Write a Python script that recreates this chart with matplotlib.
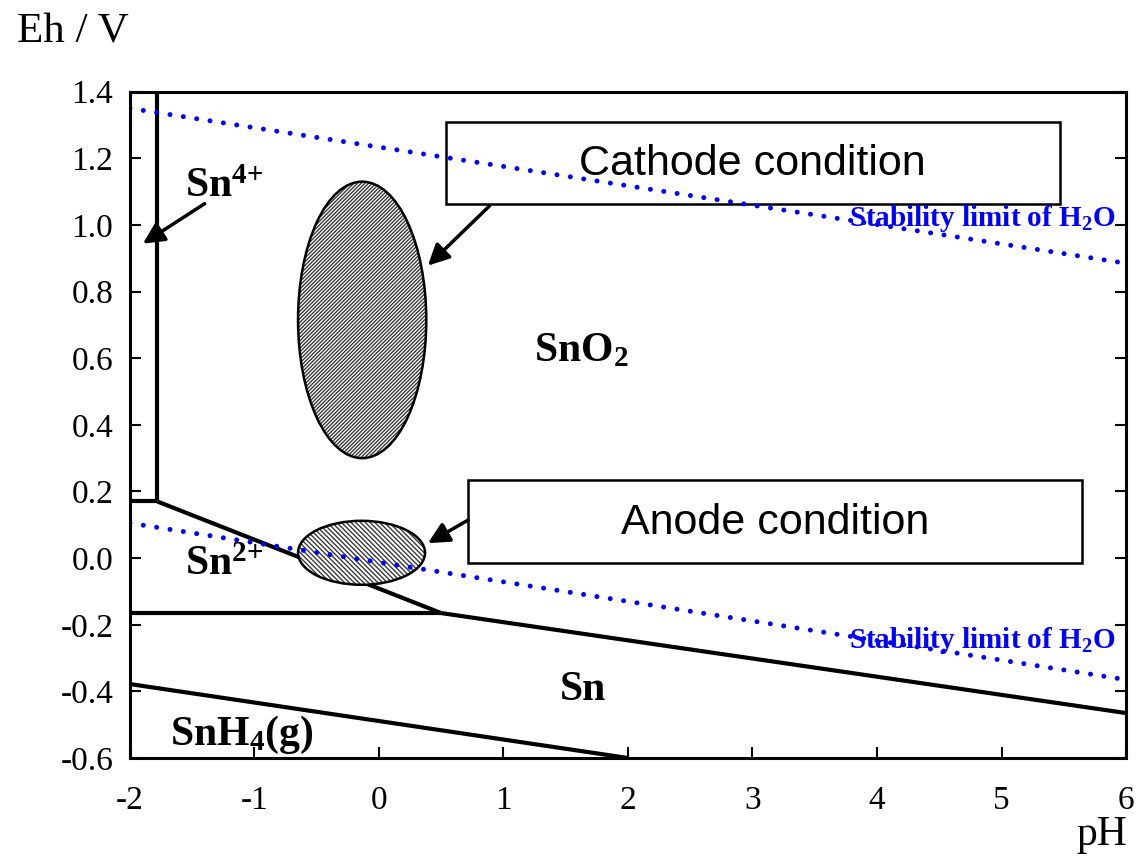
import matplotlib
matplotlib.use("Agg")
import matplotlib.pyplot as plt
from matplotlib.patches import Ellipse, Rectangle, FancyArrowPatch
from matplotlib.ticker import FixedLocator, FixedFormatter

plt.rcParams['font.family'] = ['Liberation Serif', 'DejaVu Serif']
plt.rcParams['mathtext.fontset'] = 'custom'
plt.rcParams['mathtext.rm'] = 'Liberation Serif'
plt.rcParams['mathtext.bf'] = 'Liberation Serif:bold'
plt.rcParams['mathtext.default'] = 'regular'
plt.rcParams['hatch.linewidth'] = 1.0

# ---- data ----
x_ticks = [-2, -1, 0, 1, 2, 3, 4, 5, 6]
x_tick_labels = ["-2", "-1", "0", "1", "2", "3", "4", "5", "6"]
y_ticks = [1.4, 1.2, 1.0, 0.8, 0.6, 0.4, 0.2, 0.0, -0.2, -0.4, -0.6]
y_tick_labels = ["1.4", "1.2", "1.0", "0.8", "0.6", "0.4", "0.2", "0.0", "-0.2", "-0.4", "-0.6"]

# phase boundaries (pH, Eh)
sn4_sno2_ph = [-1.78, -1.78]
sn4_sno2_eh = [1.4, 0.17]
sn4_sn2_ph = [-2.0, -1.78]
sn4_sn2_eh = [0.17, 0.17]
sn2_sno2_ph = [-1.78, 0.5]
sn2_sno2_eh = [0.17, -0.165]
sn2_sn_ph = [-2.0, 0.5]
sn2_sn_eh = [-0.165, -0.165]
sn_sno2_ph = [0.5, 6.0]
sn_sno2_eh = [-0.165, -0.465]
snh4_sn_ph = [-2.0, 2.0]
snh4_sn_eh = [-0.378, -0.6]

# water stability limits
water_upper_ph = [-2.0, 6.0]
water_upper_eh = [1.35, 0.885]
water_lower_ph = [-2.0, 6.0]
water_lower_eh = [0.105, -0.365]

# conditions (center pH, center Eh, width pH, height Eh)
cathode = (-0.135, 0.715, 1.03, 0.83)
anode = (-0.14, 0.016, 1.02, 0.192)

fig = plt.figure(figsize=(11.39, 8.57), dpi=100)
ax = fig.add_axes([0.1141, 0.1155, 0.8745, 0.7775])
ax.set_xlim(-2, 6)
ax.set_ylim(-0.6, 1.4)

lw_phase = 3.0
for px, py in [(sn4_sno2_ph, sn4_sno2_eh), (sn4_sn2_ph, sn4_sn2_eh),
               (sn2_sno2_ph, sn2_sno2_eh), (sn2_sn_ph, sn2_sn_eh),
               (sn_sno2_ph, sn_sno2_eh), (snh4_sn_ph, snh4_sn_eh)]:
    ax.plot(px, py, color='black', lw=lw_phase, solid_capstyle='butt', zorder=3, clip_on=False)

# boxes
cbox = Rectangle((0.538, 1.064), 5.47 - 0.538, 1.31 - 1.064, facecolor='white',
                 edgecolor='black', lw=1.8, zorder=2)
abox = Rectangle((0.715, -0.015), 5.647 - 0.715, 0.234 + 0.015, facecolor='white',
                 edgecolor='black', lw=1.8, zorder=2)
ax.add_patch(cbox)
ax.add_patch(abox)
ax.text(3.0, 1.184, "Cathode condition", family='Liberation Sans', fontsize=31,
        ha='center', va='center', zorder=6)
ax.text(3.18, 0.105, "Anode condition", family='Liberation Sans', fontsize=31,
        ha='center', va='center', zorder=6)

# water lines
for px, py in [(water_upper_ph, water_upper_eh), (water_lower_ph, water_lower_eh)]:
    ax.plot(px, py, color='#0000ff', lw=3.6, linestyle=(0, (0.001, 2.7)),
            dash_capstyle='round', zorder=5)

# ellipses: hatched fill (grey hatch) + black outline
def hatched_ellipse(spec, hatch, hcolor):
    fill = Ellipse((spec[0], spec[1]), spec[2], spec[3], facecolor='white',
                   edgecolor=hcolor, lw=0, hatch=hatch, zorder=4)
    ax.add_patch(fill)
    edge = Ellipse((spec[0], spec[1]), spec[2], spec[3], facecolor='none',
                   edgecolor='black', lw=1.8, zorder=4.5)
    ax.add_patch(edge)

hatched_ellipse(cathode, '/' * 9, '#3a3a3a')
hatched_ellipse(anode, '\\' * 7, '#3a3a3a')

# arrows
def arrow(p0, p1):
    a = FancyArrowPatch(p0, p1, arrowstyle='-|>', mutation_scale=32, color='black',
                        lw=2.5, shrinkA=0, shrinkB=0, zorder=6)
    ax.add_patch(a)

arrow((0.89, 1.058), (0.393, 0.878))
arrow((0.715, 0.114), (0.393, 0.045))
arrow((-1.40, 1.064), (-1.896, 0.944))

# labels
lab_fs = 30
ax.text(-1.56, 1.115, r"Sn$^{4{+}}$", fontsize=lab_fs, fontweight='bold', ha='left', va='center', zorder=7)
ax.text(1.245, 0.62, r"SnO$_2$", fontsize=lab_fs, fontweight='bold', ha='left', va='center', zorder=7)
ax.text(-1.56, -0.02, r"Sn$^{2{+}}$", fontsize=lab_fs, fontweight='bold', ha='left', va='center', zorder=7)
ax.text(1.45, -0.396, "Sn", fontsize=lab_fs, fontweight='bold', ha='left', va='center', zorder=7)
ax.text(-1.68, -0.53, r"SnH$_4$(g)", fontsize=lab_fs, fontweight='bold', ha='left', va='center', zorder=7)

ax.text(5.92, 1.02, r"Stability limit of H$_2$O", fontsize=21, fontweight='bold',
        color='#0000ff', ha='right', va='center', zorder=7)
ax.text(5.92, -0.248, r"Stability limit of H$_2$O", fontsize=21, fontweight='bold',
        color='#0000ff', ha='right', va='center', zorder=7)

# axes styling
for s in ax.spines.values():
    s.set_linewidth(2.2)
    s.set_zorder(8)
ax.xaxis.set_major_locator(FixedLocator(x_ticks))
ax.xaxis.set_major_formatter(FixedFormatter(x_tick_labels))
ax.yaxis.set_major_locator(FixedLocator(y_ticks))
ax.yaxis.set_major_formatter(FixedFormatter(y_tick_labels))
ax.tick_params(axis='both', direction='in', length=8, width=1.5, labelsize=24)
ax.tick_params(axis='y', right=True, pad=12)
ax.tick_params(axis='x', top=False, pad=20)

fig.text(0.015, 0.962, "Eh / V", fontsize=31, ha='left', va='center')
fig.text(0.99, 0.026, "pH", fontsize=30, ha='right', va='center')

fig.savefig("out.png", dpi=100)
